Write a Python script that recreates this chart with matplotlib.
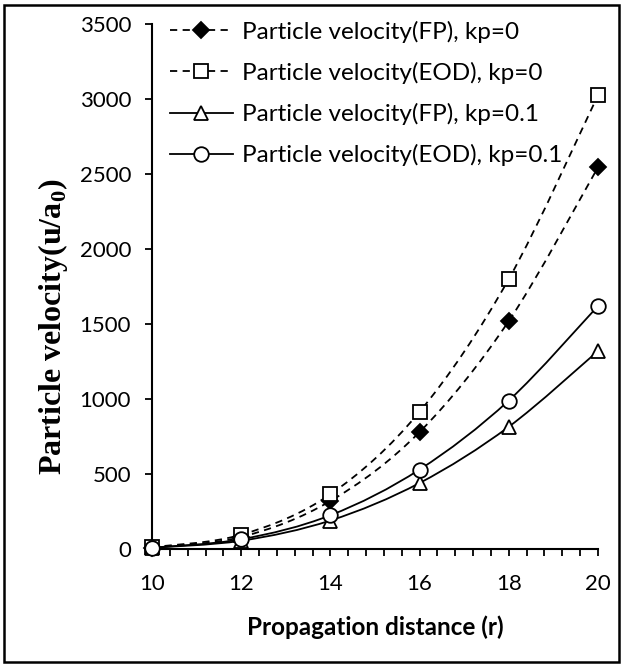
import matplotlib
matplotlib.use('Agg')
import matplotlib.pyplot as plt
from matplotlib.path import Path
from matplotlib.patches import PathPatch, Rectangle
from matplotlib.lines import Line2D
from matplotlib.ticker import MultipleLocator

# dati
distanza = [10, 12, 14, 16, 18, 20]
fp_kp0 = [10, 80, 320, 780, 1520, 2545]
eod_kp0 = [12, 95, 365, 915, 1800, 3025]
fp_kp01 = [8, 55, 190, 440, 815, 1320]
eod_kp01 = [9, 65, 225, 530, 990, 1620]

etichette = ['Particle velocity(FP), kp=0',
             'Particle velocity(EOD), kp=0',
             'Particle velocity(FP), kp=0.1',
             'Particle velocity(EOD), kp=0.1']

plt.rcParams['font.family'] = ['Lato', 'DejaVu Sans']
plt.rcParams['mathtext.fontset'] = 'custom'
plt.rcParams['mathtext.rm'] = 'Liberation Serif:bold'
plt.rcParams['mathtext.bf'] = 'Liberation Serif:bold'


def curva_liscia(x, y):
    # linea smussata come in Excel (Catmull-Rom -> Bezier)
    n = len(x)
    verts = [(x[0], y[0])]
    codes = [Path.MOVETO]
    for i in range(n - 1):
        i0 = max(i - 1, 0)
        i3 = min(i + 2, n - 1)
        c1 = (x[i] + (x[i + 1] - x[i0]) / 6, y[i] + (y[i + 1] - y[i0]) / 6)
        c2 = (x[i + 1] - (x[i3] - x[i]) / 6, y[i + 1] - (y[i3] - y[i]) / 6)
        verts += [c1, c2, (x[i + 1], y[i + 1])]
        codes += [Path.CURVE4] * 3
    return Path(verts, codes)


W, H = 623, 664
fig = plt.figure(figsize=(W / 100, H / 100), dpi=100)
# area del grafico in pixel: x 152..598, y 24..549
ax = fig.add_axes([152 / W, 1 - 549 / H, 446 / W, 525 / H])

serie = [fp_kp0, eod_kp0, fp_kp01, eod_kp01]
tratteggio = (0, (4, 3))
stili = [dict(ls=tratteggio, marker='D', mfc='black', ms=8.5),
         dict(ls=tratteggio, marker='s', mfc='white', ms=10),
         dict(ls='-', marker='^', mfc='white', ms=10.5),
         dict(ls='-', marker='o', mfc='white', ms=10.5)]

maniglie = []
for y, st, lab in zip(serie, stili, etichette):
    patch = PathPatch(curva_liscia(distanza, y), fill=False, edgecolor='black',
                      lw=1.3, linestyle=st['ls'], zorder=2)
    ax.add_patch(patch)
    ax.plot(distanza, y, ls='none', marker=st['marker'], mfc=st['mfc'],
            mec='black', mew=1.3, ms=st['ms'], zorder=3, clip_on=False)
    maniglie.append(Line2D([], [], color='black', lw=1.3, linestyle=st['ls'],
                           marker=st['marker'], mfc=st['mfc'], mec='black',
                           mew=1.3, ms=st['ms']))

ax.set_xlim(10, 20)
ax.set_ylim(0, 3500)
ax.xaxis.set_major_locator(MultipleLocator(2))
ax.xaxis.set_minor_locator(MultipleLocator(0.4))
ax.yaxis.set_major_locator(MultipleLocator(500))

for s in ['top', 'right']:
    ax.spines[s].set_visible(False)
for s in ['left', 'bottom']:
    ax.spines[s].set_linewidth(1.5)

ax.tick_params(axis='both', which='major', direction='out', length=5,
               width=1.3, labelsize=16)
ax.tick_params(axis='x', which='minor', direction='out', length=5, width=1.3)
ax.tick_params(axis='x', which='major', pad=13)
ax.tick_params(axis='y', which='major', pad=10)

ax.set_xlabel('Propagation distance (r)', fontsize=17.5, fontweight='bold')
ax.xaxis.set_label_coords(0.5, -0.149)
ax.xaxis.label.set_va('center')
ax.set_ylabel('Particle velocity(u/a$_\\mathbf{0}$)', fontsize=23,
              fontweight='bold', family='Liberation Serif')
ax.yaxis.set_label_coords(-0.222, 0.423)
ax.yaxis.label.set_va('center')

ax.legend(maniglie, etichette, loc='upper left', bbox_to_anchor=(0.040, 1.006),
          frameon=False, fontsize=17.5, handlelength=2.6, handletextpad=0.35,
          labelspacing=0.78, borderpad=0, borderaxespad=0)

# cornice esterna
fig.patches.append(Rectangle((4 / W, 2 / H), 615 / W, 657 / H, transform=fig.transFigure,
                             fill=False, edgecolor='black', lw=1.8))

fig.savefig('out.png', dpi=100)
